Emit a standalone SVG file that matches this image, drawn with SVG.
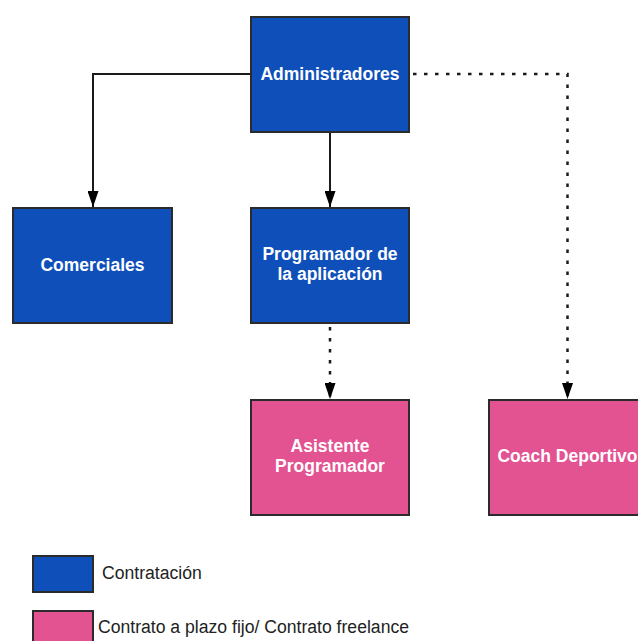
<svg xmlns="http://www.w3.org/2000/svg" width="638" height="641" viewBox="0 0 638 641">
<defs>
<style>
.blue{fill:#0e4fba;stroke:#2b2b2b;stroke-width:2}
.pink{fill:#e35291;stroke:#2b2b2b;stroke-width:2}
.lbl{font-family:"Liberation Sans",Arial,sans-serif;font-size:17.5px;font-weight:bold;fill:#ffffff;text-anchor:middle}
.leg{font-family:"Liberation Sans",Arial,sans-serif;font-size:17.6px;fill:#222222}
.solid{fill:none;stroke:#1a1a1a;stroke-width:2}
.dot{fill:none;stroke:#1a1a1a;stroke-width:2.5;stroke-dasharray:3.5 7.5}
</style>
<marker id="arr" viewBox="0 0 16 11" refX="16" refY="5.5" markerWidth="16" markerHeight="11" markerUnits="userSpaceOnUse" orient="auto">
<path d="M0,0 L16,5.5 L0,11 Z" fill="#000"/>
</marker>
</defs>
<rect width="638" height="641" fill="#ffffff"/>
<g id="connectors">
<path class="solid" d="M251,74 H93 V207" marker-end="url(#arr)"/>
<path class="solid" d="M330,132 V207" marker-end="url(#arr)"/>
<path class="dot" d="M413,74 H567.5 V399" marker-end="url(#arr)"/>
<path class="dot" d="M330,327 V399" marker-end="url(#arr)"/>
</g>
<g id="n-admin">
<rect class="blue" x="251" y="17" width="158" height="115"/>
<text class="lbl" x="330" y="79.5">Administradores</text>
</g>
<g id="n-comerciales">
<rect class="blue" x="13" y="208" width="159" height="115"/>
<text class="lbl" x="92.5" y="270.5">Comerciales</text>
</g>
<g id="n-programador">
<rect class="blue" x="251" y="208" width="158" height="115"/>
<text class="lbl" x="330" y="260">Programador de</text>
<text class="lbl" x="330" y="280">la aplicación</text>
</g>
<g id="n-asistente">
<rect class="pink" x="251" y="400" width="158" height="115"/>
<text class="lbl" x="330" y="452">Asistente</text>
<text class="lbl" x="330" y="472">Programador</text>
</g>
<g id="n-coach">
<rect class="pink" x="489" y="400" width="158" height="115"/>
<text class="lbl" x="567.5" y="462">Coach Deportivo</text>
</g>
<g id="legend">
<rect class="blue" x="33" y="556" width="60" height="36"/>
<text class="leg" x="102" y="579">Contratación</text>
<rect class="pink" x="33" y="611" width="60" height="37"/>
<text class="leg" x="98" y="632.5">Contrato a plazo fijo/ Contrato freelance</text>
</g>
</svg>
